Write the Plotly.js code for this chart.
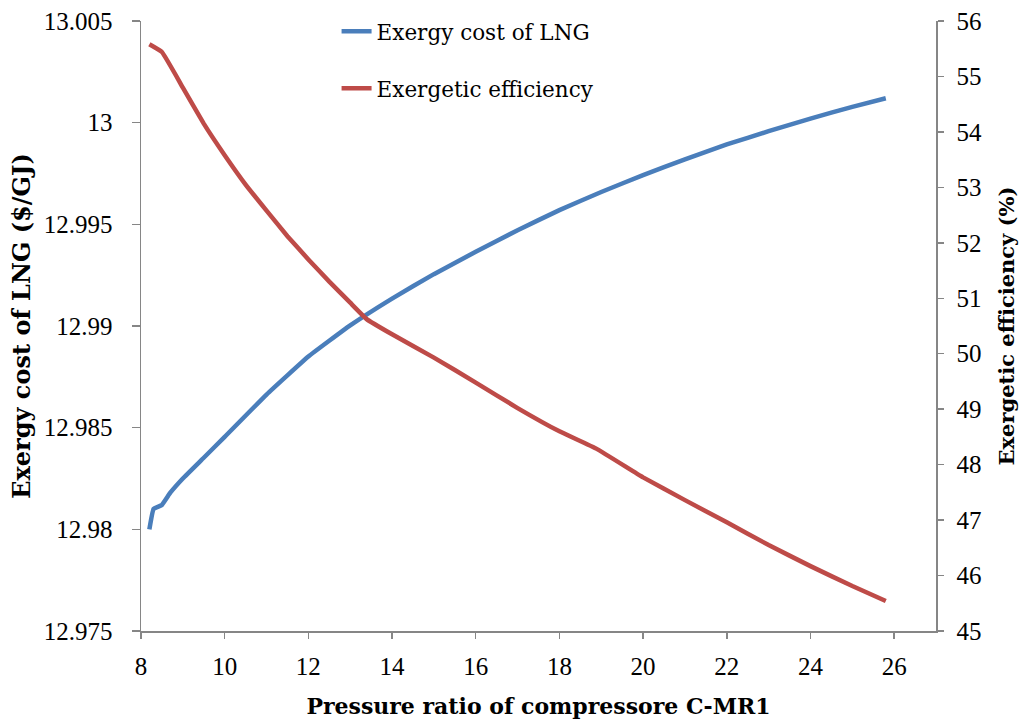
<!DOCTYPE html>
<html>
<head>
<meta charset="utf-8">
<script src="https://cdn.plot.ly/plotly-3.0.1.min.js"></script>
<style>html,body{margin:0;padding:0;background:#fff;}#chart{width:1027px;height:725px;}</style>
</head>
<body>
<div id="chart"></div>
<script>
// Pressure ratio of compressor C-MR1 (x) for each series
const costRatio = [8.2, 8.3, 8.5, 8.7, 9.0, 9.5, 10, 11, 12, 13, 14, 15, 16, 17, 18, 19, 20, 21, 22, 23, 24, 25, 25.8];
// Exergy cost of LNG ($/GJ)
const exergyCost = [12.98000, 12.98100, 12.98120, 12.98180, 12.98250, 12.98352, 12.98455, 12.98663, 12.98850, 12.99003,
  12.99135, 12.99255, 12.99365, 12.99471, 12.99570, 12.99659, 12.99742, 12.99820, 12.99893, 12.99958, 13.00020, 13.00078, 13.00120];

const effRatio = [8.2, 8.5, 9.0, 9.5, 10, 10.5, 11, 11.5, 12, 12.5, 13, 13.4, 14, 15, 16, 17, 18, 18.9, 20, 21, 22, 23, 24, 25, 25.8];
// Exergetic efficiency (%)
const exergeticEff = [55.58, 55.44, 54.80, 54.15, 53.58, 53.05, 52.58, 52.12, 51.70, 51.30, 50.92, 50.62, 50.35, 49.93, 49.48,
  49.02, 48.60, 48.28, 47.77, 47.36, 46.96, 46.55, 46.17, 45.81, 45.54];

const leftTickVals = [12.975, 12.98, 12.985, 12.99, 12.995, 13, 13.005];
const leftTickText = ["12.975", "12.98", "12.985", "12.99", "12.995", "13", "13.005"];

const seriesNames = ["Exergy cost of LNG", "Exergetic efficiency"];

const axisGray = "#868686";
const serifBook = "DejaVu Serif";
function tickFont() { return {family: "Liberation Serif", size: 25, color: "#000"}; }

const traces = [
  {x: costRatio, y: exergyCost, name: seriesNames[0], type: "scatter", mode: "lines",
   line: {color: "#4A7EBB", width: 4.5, shape: "spline", smoothing: 0.3}, yaxis: "y", legendgroup: "a"},
  {x: effRatio, y: exergeticEff, name: seriesNames[1], type: "scatter", mode: "lines",
   line: {color: "#BE4B48", width: 4.5, shape: "spline", smoothing: 0.3}, yaxis: "y2", legendgroup: "b"}
];

const layout = {
  width: 1027, height: 725,
  margin: {l: 141, r: 91, t: 20, b: 94},
  paper_bgcolor: "#fff", plot_bgcolor: "#fff",
  font: {family: "Liberation Serif", color: "#000"},
  showlegend: true,
  legend: {x: 0.246, y: 1.015, xanchor: "left", yanchor: "top",
    bgcolor: "rgba(0,0,0,0)", font: {family: serifBook, size: 21.5, color: "#000"}, tracegroupgap: 26},
  xaxis: {range: [8, 27], dtick: 2, tick0: 8, showgrid: false, zeroline: false,
    showline: true, linecolor: axisGray, linewidth: 1.5,
    ticks: "outside", ticklen: 6, tickcolor: axisGray, tickwidth: 1.5,
    tickfont: tickFont(), ticklabelstandoff: 6,
    title: {text: "Pressure ratio of compressore C-MR1", font: {family: serifBook, size: 22, color: "#000", weight: "bold"}, standoff: 20}},
  yaxis: {range: [12.975, 13.005], tickmode: "array", tickvals: leftTickVals, ticktext: leftTickText,
    showgrid: false, zeroline: false, showline: true, linecolor: axisGray, linewidth: 1.5,
    ticks: "outside", ticklen: 8, tickcolor: axisGray, tickwidth: 1.5,
    tickfont: tickFont(), ticklabelstandoff: 14,
    title: {text: "Exergy cost of LNG ($/GJ)", font: {family: serifBook, size: 24, color: "#000", weight: "bold"}, standoff: 6}},
  yaxis2: {range: [45, 56], dtick: 1, tick0: 45, overlaying: "y", side: "right",
    showgrid: false, zeroline: false, showline: true, linecolor: axisGray, linewidth: 1.5,
    ticks: "outside", ticklen: 6, tickcolor: axisGray, tickwidth: 1.5,
    tickfont: tickFont(), ticklabelstandoff: 8,
    title: {text: "Exergetic efficiency (%)", font: {family: serifBook, size: 21, color: "#000", weight: "bold"}, standoff: 18}}
};

Plotly.newPlot("chart", traces, layout, {displayModeBar: false, staticPlot: true});
</script>
</body>
</html>
